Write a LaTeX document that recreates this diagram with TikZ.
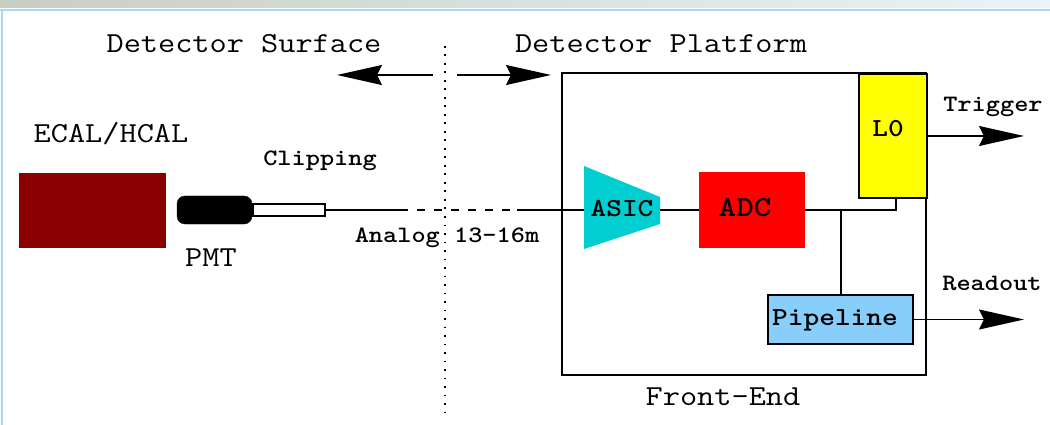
\documentclass[tikz,border=0pt]{standalone}
\usetikzlibrary{arrows.meta}

\definecolor{calred}{RGB}{139,0,0}
\definecolor{adcred}{RGB}{255,0,0}
\definecolor{asiccyan}{RGB}{0,206,209}
\definecolor{lzyellow}{RGB}{255,255,0}
\definecolor{pipeblue}{RGB}{135,206,250}
\definecolor{frameblue}{RGB}{170,215,245}
\definecolor{bandleft}{RGB}{200,206,196}
\definecolor{bandmid}{RGB}{218,222,218}
\definecolor{bandright}{RGB}{232,244,248}

% typewriter text, widened a little
\newcommand{\widetxt}[1]{\scalebox{1.15}[1]{#1}}

\tikzset{
  title/.style={font=\ttfamily\fontsize{29}{34}\selectfont, inner sep=0pt, anchor=base},
  label/.style={font=\ttfamily\bfseries\fontsize{23.5}{28}\selectfont, inner sep=0pt, anchor=base},
  inlabel/.style={font=\ttfamily\bfseries\fontsize{26}{30}\selectfont, inner sep=0pt, anchor=base},
  block/.style={inner sep=0pt, line width=2pt},
  wire/.style={line width=1.6pt},
  bigarrow/.style={line width=1.6pt, -{Stealth[length=45pt, width=20pt, inset=5pt]}},
}

\begin{document}
\begin{tikzpicture}[x=1pt, y=-1pt]
\useasboundingbox (0,0) rectangle (1050,425);
\fill[white] (0,0) rectangle (1050,425);

% window frame strip
\shade[left color=bandleft, middle color=bandmid, right color=bandright] (0,0) rectangle (1050,8);
\fill[frameblue] (0,9) rectangle (1050,11.5);
\fill[frameblue] (1,9) rectangle (3,425);

% headings
\node[title] (surf) at (244,53) {\widetxt{Detector Surface}};
\node[title] (plat) at (661,53) {\widetxt{Detector Platform}};

% boundary between surface and platform
\coordinate (bdtop) at (445,46);
\coordinate (bdbot) at (445,415);
\draw[line width=1.6pt, dash pattern=on 1.6pt off 6.9pt] (bdtop) -- (bdbot);
\coordinate (arlS) at (433,75);
\coordinate (arlE) at (337,75);
\coordinate (arrS) at (457,75);
\coordinate (arrE) at (551,75);
\draw[bigarrow] (arlS) -- (arlE);
\draw[bigarrow] (arrS) -- (arrE);

% calorimeter and photomultiplier
\node[title] (calt) at (111,143) {\widetxt{ECAL/HCAL}};
\node[fill=calred, block, minimum width=147pt, minimum height=75pt] (cal) at (92.5,210.5) {};
\node[fill=black, draw=black, rounded corners=8pt, inner sep=0pt,
      minimum width=75pt, minimum height=28pt] (pmt) at (214.5,210) {};
\node[fill=white, draw=black, line width=1.4pt, inner sep=0pt,
      minimum width=72pt, minimum height=12pt, anchor=west] (clip) at (pmt.east) {};
\node[label] (clipt) at (320,166) {\widetxt{Clipping}};
\node[title] (pmtt) at (211,266) {\widetxt{PMT}};

% analog cable
\coordinate (dashA) at (400,210);
\coordinate (dashB) at (517,210);
\node[label] (analog) at (447,242) {\widetxt{Analog 13-16m}};

% front-end board
\node[draw=black, block, minimum width=364pt, minimum height=302pt] (fe) at (744,224) {};
\node[title] (fet) at (723,405) {\widetxt{Front-End}};

% shaper
\coordinate (asicA) at (584,166);
\coordinate (asicB) at (660,197);
\coordinate (asicC) at (660,224);
\coordinate (asicD) at (584,249);
\fill[asiccyan] (asicA) -- (asicB) -- (asicC) -- (asicD) -- cycle;
\coordinate (asicin) at (584,210);
\coordinate (asicout) at (660,210);
\node[inlabel] (asic) at (622,216) {\widetxt{ASIC}};

% digitiser
\node[fill=adcred, inner sep=0pt, minimum width=106pt, minimum height=75pt] (adc) at (752,210) {};
\node[font=\ttfamily\bfseries\fontsize{29}{34}\selectfont, inner sep=0pt, anchor=base] (adct) at (745,216) {\widetxt{ADC}};

% level-0 trigger
\node[fill=lzyellow, draw=black, block, minimum width=68pt, minimum height=124pt] (lz) at (893,136) {};
\node[inlabel] (lzt) at (888,137) {\widetxt{L0}};

% pipeline
\node[fill=pipeblue, draw=black, block, minimum width=145pt, minimum height=49pt] (pipe) at (840.5,319.5) {};
\node[inlabel] (pipet) at (835,325) {\widetxt{Pipeline}};

% connections
\draw[wire] (clip.east) -- (dashA);
\draw[wire, dash pattern=on 8pt off 9pt] (dashA) -- (dashB);
\draw[wire] (dashB) -- (asicin);
\draw[wire] (asicout) -- (adc.west);
\coordinate (lzin) at (896,210);
\coordinate (tap) at (841,210);
\draw[wire] (adc.east) -- (lzin) -- (lzin |- lz.south);
\draw[wire] (tap) -- (tap |- pipe.north);

% outputs
\coordinate (trigE) at (1024,136);
\coordinate (readE) at (1024,319.5);
\draw[bigarrow] (lz.east) -- (trigE);
\draw[bigarrow] (pipe.east) -- (readE);
\node[label] (trigt) at (993,112) {\widetxt{Trigger}};
\node[label] (readt) at (992,290) {\widetxt{Readout}};
\end{tikzpicture}
\end{document}
